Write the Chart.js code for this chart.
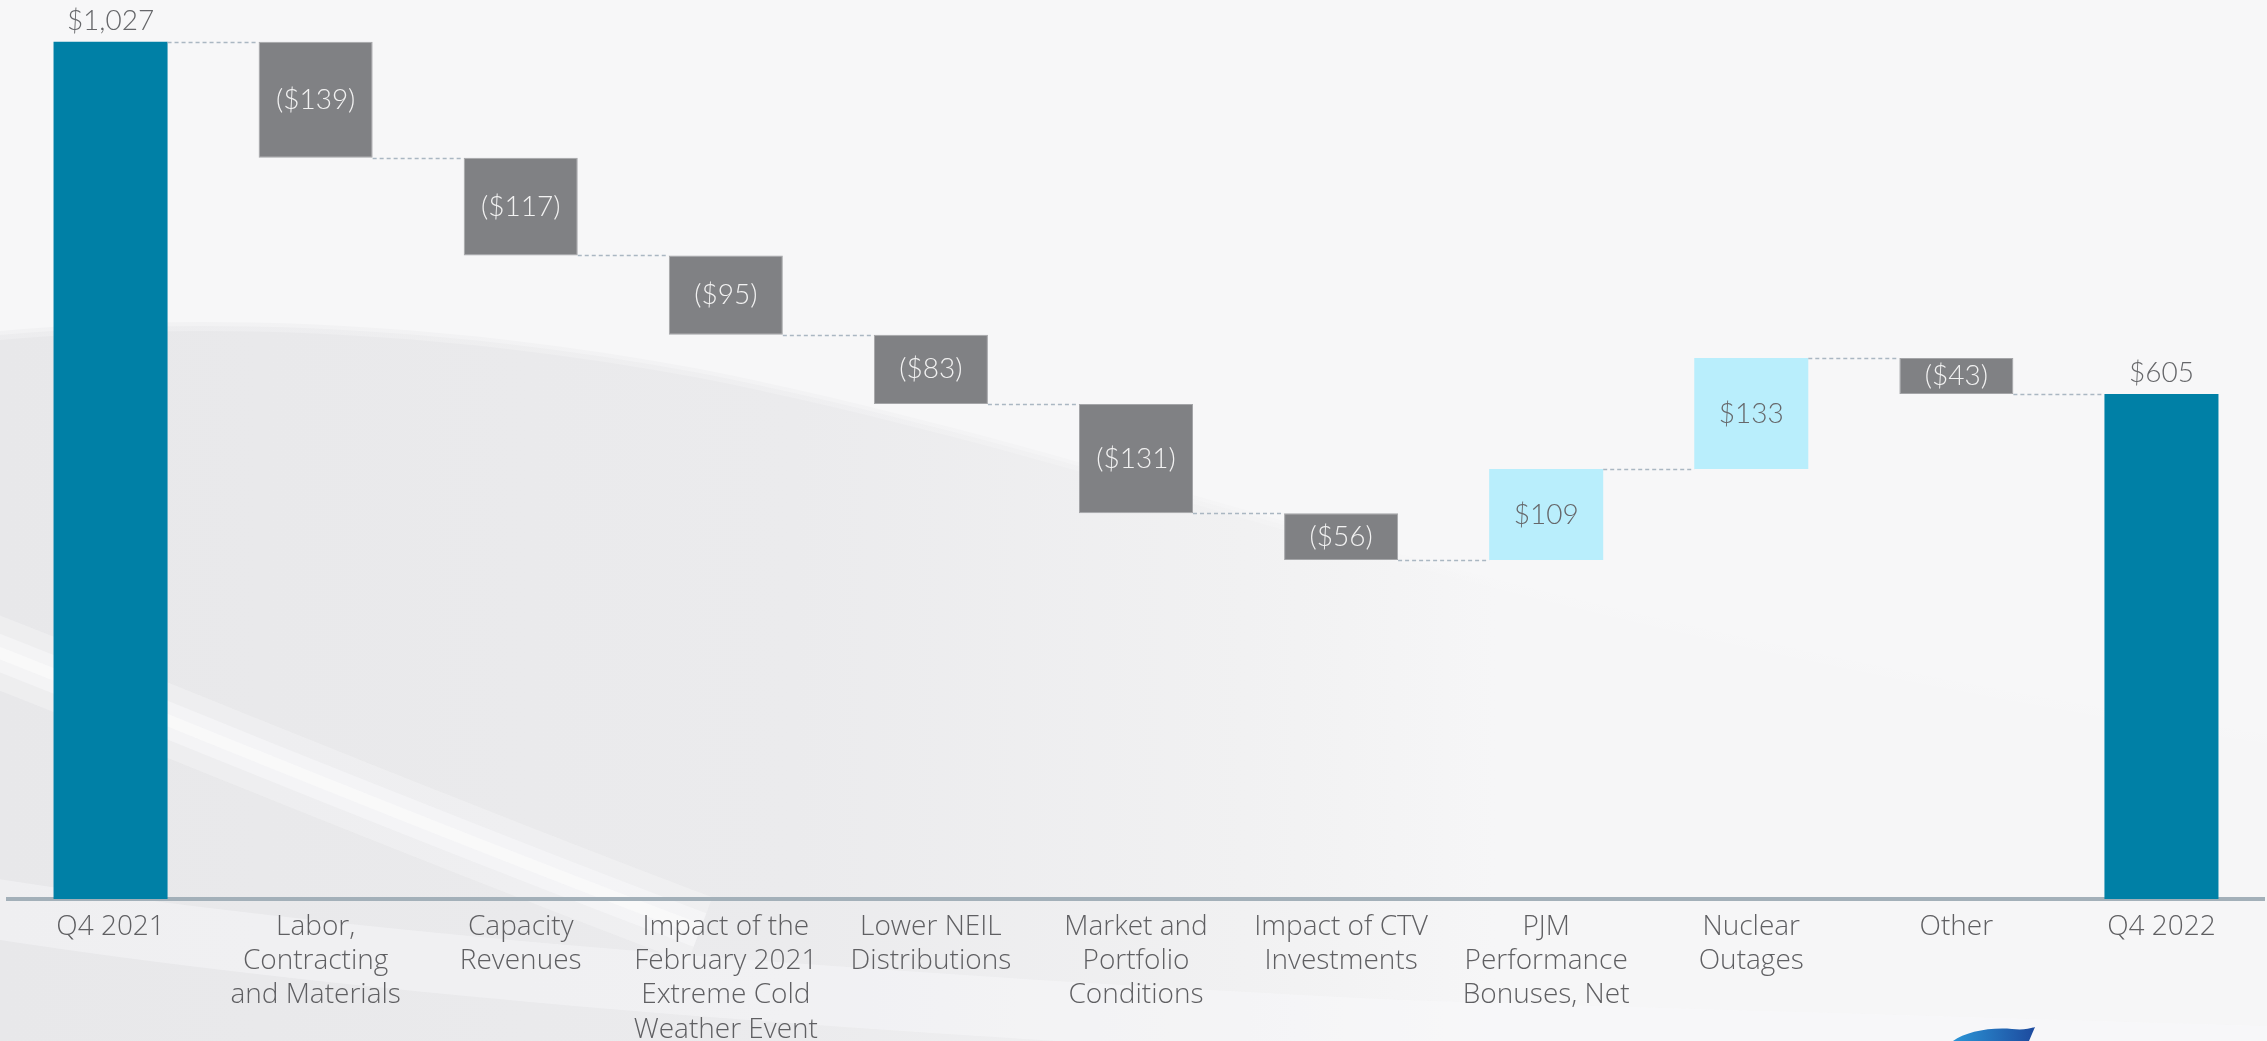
<!DOCTYPE html>
<html><head><meta charset="utf-8">
<script src="https://cdn.jsdelivr.net/npm/chart.js@4.4.1/dist/chart.umd.min.js"></script>
<style>
html,body{margin:0;padding:0;width:2267px;height:1041px;overflow:hidden;background:#f6f6f7;}
#bg{position:absolute;left:0;top:0}
#wrap{position:absolute;left:0;top:0;width:2267px;height:1041px}
</style></head><body>
<svg id="bg" width="2267" height="1041" xmlns="http://www.w3.org/2000/svg">
  <defs>
    <linearGradient id="g1" gradientUnits="userSpaceOnUse" x1="0" y1="0" x2="2267" y2="0">
      <stop offset="0" stop-color="#e8e8ea"/>
      <stop offset="0.35" stop-color="#ebebed"/>
      <stop offset="0.55" stop-color="#f1f1f2"/>
      <stop offset="0.66" stop-color="#f6f6f7"/>
      <stop offset="1" stop-color="#f6f6f7"/>
    </linearGradient>
    <linearGradient id="lg" x1="0" y1="0" x2="1" y2="0">
      <stop offset="0" stop-color="#2b95d6"/>
      <stop offset="1" stop-color="#1d4a9e"/>
    </linearGradient>
  </defs>
  <rect width="2267" height="1041" fill="#f7f7f8"/>
  <g fill="url(#g1)">
    <path d="M0,331 C200,312 450,322 700,369 C950,419 1150,484 1400,554 C1700,634 2000,694 2267,734 L2267,1041 L0,1041 Z" opacity="0.35"/>
    <path d="M0,335 C200,316 450,326 700,373 C950,423 1150,488 1400,558 C1700,638 2000,698 2267,738 L2267,1041 L0,1041 Z" opacity="0.5"/>
    <path d="M0,340 C200,321 450,331 700,378 C950,428 1150,493 1400,563 C1700,643 2000,703 2267,743 L2267,1041 L0,1041 Z"/>
  </g>
  <g fill="none" stroke="#fbfbfc" stroke-linecap="butt">
    <path d="M-60,630 C100,690 330,790 700,930" stroke-width="70" stroke-opacity="0.3"/>
    <path d="M-60,630 C100,690 330,790 700,930" stroke-width="36" stroke-opacity="0.45"/>
    <path d="M-60,630 C100,690 330,790 700,930" stroke-width="12" stroke-opacity="0.6"/>
    <path d="M-60,900 C300,960 800,1000 1400,1030 C1800,1045 2100,1050 2400,1060" stroke-width="60" stroke-opacity="0.4"/>
  </g>
  <path d="M1953,1041 C1965,1032 1990,1027 2012,1029 C2022,1030 2030,1029 2035,1027 L2029,1041 Z" fill="url(#lg)"/>
</svg>
<div id="wrap"><canvas id="c" width="2267" height="1041"></canvas></div>
<script>
// ---- data ----
const categories = [
  ['Q4 2021'],
  ['Labor,', 'Contracting', 'and Materials'],
  ['Capacity', 'Revenues'],
  ['Impact of the', 'February 2021', 'Extreme Cold', 'Weather Event'],
  ['Lower NEIL', 'Distributions'],
  ['Market and', 'Portfolio', 'Conditions'],
  ['Impact of CTV', 'Investments'],
  ['PJM', 'Performance', 'Bonuses, Net'],
  ['Nuclear', 'Outages'],
  ['Other'],
  ['Q4 2022']
];
const startTotal = 1027;
const changes = [-139, -117, -95, -83, -131, -56, 109, 133, -43];
const endTotal = 605;

// ---- build floating bars from the values ----
const barData = [];
const kinds = [];
const values = [];
barData.push([0, startTotal]); kinds.push('total'); values.push(startTotal);
let running = startTotal;
changes.forEach(c => {
  barData.push([running, running + c]);
  kinds.push(c < 0 ? 'neg' : 'pos');
  values.push(c);
  running += c;
});
barData.push([0, endTotal]); kinds.push('total'); values.push(endTotal);

const COLORS = { total: '#0080a6', neg: '#808184', pos: '#b9eefc' };
const LABEL_COLORS = { total: '#66676a', neg: '#f2f2f2', pos: '#66676a' };

function fmt(v) {
  const s = '$' + Math.abs(v).toLocaleString('en-US');
  return v < 0 ? '(' + s + ')' : s;
}

const waterfallPlugin = {
  id: 'waterfall',
  afterDatasetsDraw(chart) {
    const ctx = chart.ctx;
    const meta = chart.getDatasetMeta(0);
    const yScale = chart.scales.y;
    const els = meta.data;
    ctx.save();
    ctx.strokeStyle = '#aab7c2';
    ctx.lineWidth = 1.3;
    ctx.setLineDash([4, 3]);
    for (let i = 0; i < els.length - 1; i++) {
      const a = els[i], b = els[i + 1];
      const y = Math.round(yScale.getPixelForValue(barData[i][1])) + 0.5;
      ctx.beginPath();
      ctx.moveTo(a.x + a.width / 2, y);
      ctx.lineTo(b.x - b.width / 2, y);
      ctx.stroke();
    }
    ctx.setLineDash([]);
    ctx.font = '300 28px Lato, "Open Sans", sans-serif';
    ctx.textAlign = 'center';
    ctx.textBaseline = 'middle';
    els.forEach((el, i) => {
      const k = kinds[i];
      ctx.fillStyle = LABEL_COLORS[k];
      const top = Math.min(el.y, el.base), bot = Math.max(el.y, el.base);
      const y = k === 'total' ? top - 21 : (top + bot) / 2;
      ctx.fillText(fmt(values[i]), el.x, y);
    });
    ctx.restore();
  }
};

new Chart(document.getElementById('c'), {
  type: 'bar',
  data: {
    labels: categories,
    datasets: [{
      data: barData,
      backgroundColor: kinds.map(k => COLORS[k]),
      borderColor: kinds.map(k => k === 'neg' ? '#a4a5a8' : 'rgba(0,0,0,0)'),
      borderWidth: kinds.map(k => k === 'neg' ? 1 : 0),
      borderSkipped: false,
      barPercentage: 0.556,
      categoryPercentage: 1
    }]
  },
  options: {
    responsive: false,
    devicePixelRatio: 1,
    animation: false,
    layout: { padding: { left: 8, right: 3, top: 0, bottom: 0 } },
    plugins: { legend: { display: false }, tooltip: { enabled: false }, title: { display: false } },
    scales: {
      x: {
        z: 1,
        grid: { display: false, drawTicks: false },
        border: { display: true, color: '#a3b0b9', width: 4 },
        ticks: {
          color: '#5f5f62',
          font: { family: '"Open Sans", Lato, sans-serif', size: 28, weight: '300', lineHeight: 1.22 },
          padding: 11,
          maxRotation: 0,
          autoSkip: false
        },
        afterFit(s) { s.height = 142; }
      },
      y: { display: false, min: 0, max: 1077 }
    }
  },
  plugins: [waterfallPlugin]
});
</script>
</body></html>
